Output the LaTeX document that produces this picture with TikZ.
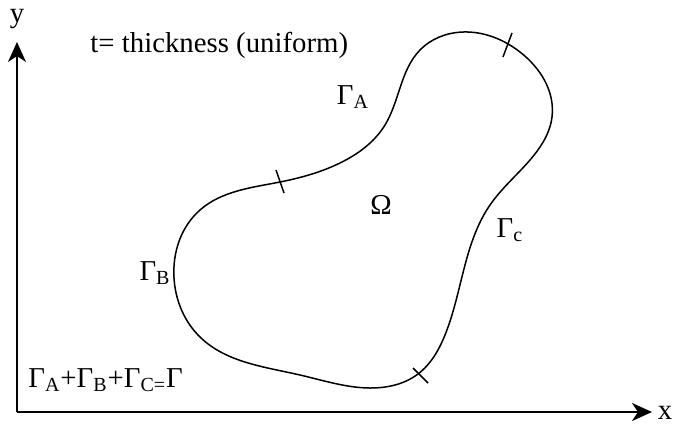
\documentclass[tikz,border=0pt]{standalone}
\usepackage{fontspec}
\setmainfont{Liberation Serif}
\usetikzlibrary{arrows.meta,hobby}

\begin{document}
\begin{tikzpicture}[
  x=0.5pt, y=-0.5pt,
  font=\fontsize{14.4}{17}\selectfont,
  axis/.style={line width=1pt, -{Stealth[length=10pt, width=9pt, inset=3pt]}},
  bound/.style={line width=0.75pt},
  tick/.style={line width=0.75pt},
  lbl/.style={inner sep=0pt}
]
\useasboundingbox (0,0) rectangle (675,424);

% axes
\coordinate (O) at (17,412);
\coordinate (ytip) at (17,42);
\coordinate (xtip) at (652,412);
\draw[axis] (O) -- (ytip);
\draw[axis] (O) -- (xtip);
\node[lbl] (ylab) at (17,19) {y};
\node[lbl] (xlab) at (665,413) {x};

% boundary of the domain
\draw[bound, use Hobby shortcut, closed=true]
  (463,32) .. (520,52) .. (552,117) .. (530,160) .. (490,205)
  .. (465,265) .. (445,335) .. (418,374) .. (370,388) .. (300,375)
  .. (200,337) .. (174,278) .. (200,210) .. (280,182) .. (340,163)
  .. (385,125) .. (420,50);

% segment marks
\draw[tick] (503,57) -- (512,33);
\draw[tick] (276,170) -- (284,193);
\draw[tick] (413,368) -- (428,383);

% labels
\node[lbl, anchor=west] (thick) at (90,45) {t= thickness (uniform)};
\node[lbl] (gA) at (353,97) {Γ\textsubscript{A}};
\node[lbl] (omega) at (381,205) {Ω};
\node[lbl] (gB) at (155,273) {Γ\textsubscript{B}};
\node[lbl] (gC) at (510,230) {Γ\textsubscript{c}};
\node[lbl, anchor=west] (sum) at (28,380) {Γ\textsubscript{A}+Γ\textsubscript{B}+Γ\textsubscript{C=}Γ};
\end{tikzpicture}
\end{document}
